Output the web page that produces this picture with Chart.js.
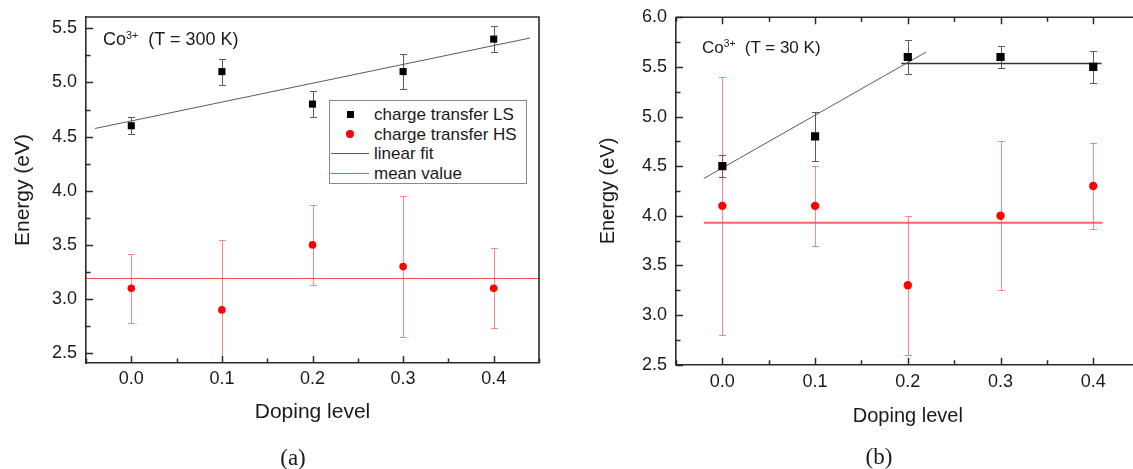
<!DOCTYPE html>
<html>
<head>
<meta charset="utf-8">
<script src="https://cdn.jsdelivr.net/npm/chart.js@4.4.1/dist/chart.umd.min.js"></script>
<style>
  html, body { margin: 0; padding: 0; background: #fff; overflow: hidden; width: 1133px; height: 469px; }
  body { position: relative; font-family: "Liberation Sans", Arial, sans-serif; color: #1a1a1a; }
  canvas { position: absolute; top: 0; }
  #chart300 { left: 0; }
  #chart30 { left: 580px; }
  .note { position: absolute; white-space: nowrap; line-height: 1; }
  .note sup { font-size: 0.6em; vertical-align: 0.55em; }
  .caption { position: absolute; font-family: "Liberation Serif", "DejaVu Serif", serif; font-size: 23px; line-height: 1; transform: translateX(-50%); }
  .legend { position: absolute; box-sizing: border-box; border: 1px solid #8a8a8a; background: #fff; padding-top: 4px; font-size: 17px; }
  .legend .row { height: 19.5px; line-height: 19.5px; display: flex; align-items: center; white-space: nowrap; }
  .legend .sample { width: 38px; margin-left: 1px; margin-right: 5px; display: flex; justify-content: center; align-items: center; }
  .legend .sq { width: 7px; height: 7px; }
  .legend .dot { width: 8px; height: 8px; border-radius: 50%; }
  .legend .ln { width: 38px; height: 0; }
</style>
</head>
<body>
<canvas id="chart300" width="560" height="469"></canvas>
<canvas id="chart30" width="580" height="469"></canvas>

<div class="note" style="left:103px; top:30px; font-size:18px;">Co<sup>3+</sup>&nbsp; (T = 300 K)</div>
<div class="note" style="left:702px; top:39px; font-size:17px;">Co<sup>3+</sup>&nbsp; (T = 30 K)</div>
<div id="legend300" class="legend" style="left:329px; top:100px; width:198px; height:84px;"></div>

<div class="caption" style="left:293px; top:446px;">(a)</div>
<div class="caption" style="left:879px; top:445px;">(b)</div>

<script>
// ---- data ----
const dopingLevels = [0.0, 0.1, 0.2, 0.3, 0.4];
const xTickValues = [0.0, 0.1, 0.2, 0.3, 0.4];

// (a) Co3+, T = 300 K
const lsEnergy300 = [4.6, 5.1, 4.8, 5.1, 5.4];
const lsError300  = [0.08, 0.12, 0.12, 0.16, 0.12];
const hsEnergy300 = [3.1, 2.9, 3.5, 3.3, 3.1];
const hsError300  = [0.32, 0.65, 0.37, 0.65, 0.37];
const fitX300 = [-0.04, 0.44];
const fitY300 = [4.575, 5.41];
const meanX300 = [-0.05, 0.45];
const meanHS300 = 3.19;
const yTicks300 = [2.5, 3.0, 3.5, 4.0, 4.5, 5.0, 5.5];

// (b) Co3+, T = 30 K
const lsEnergy30 = [4.5, 4.8, 5.6, 5.6, 5.5];
const lsError30  = [0.11, 0.245, 0.17, 0.11, 0.165];
const hsEnergy30 = [4.1, 4.1, 3.3, 4.0, 4.3];
const hsError30  = [1.3, 0.4, 0.7, 0.75, 0.43];
const fitX30 = [-0.02, 0.22];
const fitY30 = [4.376, 5.651];
const plateauX30 = [0.193, 0.409];
const plateauLS30 = 5.535;
const meanX30 = [-0.02, 0.41];
const meanHS30 = 3.93;
const yTicks30 = [2.5, 3.0, 3.5, 4.0, 4.5, 5.0, 5.5, 6.0];

const seriesLabels = ['charge transfer LS', 'charge transfer HS', 'linear fit', 'mean value'];

// ---- styling ----
const TEXT = '#1a1a1a';
const AXIS = '#2b2b2b';
const MAJOR_TICK = 7;
const MINOR_TICK = 4.5;

Chart.defaults.font.family = '"Liberation Sans", Arial, sans-serif';
Chart.defaults.color = TEXT;

const pts = (xs, ys) => xs.map((x, i) => ({ x, y: Array.isArray(ys) ? ys[i] : ys }));

// vertical error bars with caps, drawn under the markers
const errorBars = {
  id: 'errorBars',
  beforeDatasetsDraw(chart) {
    const { ctx, chartArea: a, scales: { x, y } } = chart;
    ctx.save();
    ctx.beginPath();
    ctx.rect(a.left, a.top, a.width, a.height);
    ctx.clip();
    chart.data.datasets.forEach(ds => {
      if (!ds.errors) return;
      ctx.strokeStyle = ds.errorColor;
      ctx.lineWidth = 1;
      const cap = ds.capHalf || 3.5;
      ds.data.forEach((p, j) => {
        const e = ds.errors[j];
        const px = Math.round(x.getPixelForValue(p.x)) + 0.5;
        const yt = Math.round(y.getPixelForValue(p.y + e)) + 0.5;
        const yb = Math.round(y.getPixelForValue(p.y - e)) + 0.5;
        ctx.beginPath();
        ctx.moveTo(px, yt); ctx.lineTo(px, yb);
        ctx.moveTo(px - cap, yt); ctx.lineTo(px + cap, yt);
        ctx.moveTo(px - cap, yb); ctx.lineTo(px + cap, yb);
        ctx.stroke();
      });
    });
    ctx.restore();
  }
};

// closing frame (top / right) plus inward major and minor tick marks
const frame = {
  id: 'frame',
  afterDraw(chart, args, opts) {
    const { ctx, chartArea: a, scales: { x, y } } = chart;
    ctx.save();
    ctx.strokeStyle = AXIS;
    ctx.lineWidth = 1.6;
    ctx.beginPath();
    ctx.moveTo(a.left, a.top);
    ctx.lineTo(a.right, a.top);
    ctx.lineTo(a.right, a.bottom);
    ctx.stroke();

    const majors = (scale) => scale.ticks.map(t => t.value);
    const minors = (scale) => {
      const vals = majors(scale);
      const step = vals[1] - vals[0];
      const out = [];
      for (let v = vals[0] - step / 2; v <= scale.max + 1e-9; v += step) {
        if (v >= scale.min - 1e-9) out.push(v);
      }
      return out;
    };
    const xMarks = majors(x).map(v => [v, MAJOR_TICK]).concat(minors(x).map(v => [v, MINOR_TICK]));
    const yMarks = majors(y).map(v => [v, MAJOR_TICK]).concat(minors(y).map(v => [v, MINOR_TICK]));

    ctx.lineWidth = 1.5;
    ctx.beginPath();
    xMarks.forEach(([v, len]) => {
      const px = Math.round(x.getPixelForValue(v)) + 0.5;
      ctx.moveTo(px, a.bottom); ctx.lineTo(px, a.bottom - len);
      if (opts.topTicks) { ctx.moveTo(px, a.top); ctx.lineTo(px, a.top + len); }
    });
    yMarks.forEach(([v, len]) => {
      const py = Math.round(y.getPixelForValue(v)) + 0.5;
      ctx.moveTo(a.left, py); ctx.lineTo(a.left + len, py);
    });
    ctx.stroke();
    ctx.restore();
  }
};

function makeScales(c) {
  return {
    x: {
      type: 'linear', position: 'bottom', min: c.xMin, max: c.xMax,
      afterBuildTicks: s => { s.ticks = xTickValues.map(v => ({ value: v })); },
      afterFit: s => { s.height = c.xHeight; s.paddingLeft = 0; s.paddingRight = 0; },
      ticks: { font: { size: 18 }, padding: c.xPad, color: TEXT, callback: v => Number(v).toFixed(1) },
      grid: { drawOnChartArea: false, drawTicks: false },
      border: { display: true, color: AXIS, width: 1.6 },
      title: { display: true, text: 'Doping level', color: TEXT, font: { size: c.titleSize }, padding: { top: 0, bottom: c.xTitlePad } }
    },
    y: {
      type: 'linear', position: 'left', min: c.yMin, max: c.yMax,
      afterBuildTicks: s => { s.ticks = c.yTicks.map(v => ({ value: v })); },
      afterFit: s => { s.width = c.yWidth; s.paddingTop = 0; s.paddingBottom = 0; },
      ticks: { font: { size: 18 }, padding: 9, color: TEXT, callback: v => Number(v).toFixed(1) },
      grid: { drawOnChartArea: false, drawTicks: false },
      border: { display: true, color: AXIS, width: 1.6 },
      title: { display: true, text: 'Energy (eV)', color: TEXT, font: { size: c.titleSize }, padding: { top: c.yTitlePad, bottom: 0 } }
    }
  };
}

const baseOptions = (c) => ({
  responsive: false,
  animation: false,
  events: [],
  layout: { padding: c.padding },
  plugins: { legend: { display: false }, tooltip: { enabled: false }, frame: { topTicks: c.topTicks } },
  scales: makeScales(c)
});

// (a) 300 K
const chart300 = new Chart(document.getElementById('chart300'), {
  type: 'scatter',
  data: {
    datasets: [
      { label: seriesLabels[0], data: pts(dopingLevels, lsEnergy300), errors: lsError300, errorColor: '#5a5a5a',
        pointStyle: 'rect', pointRadius: 5, backgroundColor: '#000', borderWidth: 0, showLine: false },
      { label: seriesLabels[1], data: pts(dopingLevels, hsEnergy300), errors: hsError300, errorColor: 'rgba(255,40,40,0.55)',
        pointStyle: 'circle', pointRadius: 3.8, backgroundColor: '#ff0000', borderWidth: 0, showLine: false },
      { label: seriesLabels[2], data: pts(fitX300, fitY300), showLine: true, borderColor: '#5a5a5a', borderWidth: 1,
        pointRadius: 0, backgroundColor: '#5a5a5a' },
      { label: seriesLabels[3], data: pts(meanX300, meanHS300), showLine: true, borderColor: 'rgba(255,40,40,0.85)', borderWidth: 1.2,
        pointRadius: 0, backgroundColor: 'rgba(255,40,40,0.85)' }
    ]
  },
  options: baseOptions({
    padding: { left: 0, top: 17, right: 21, bottom: 0 },
    xMin: -0.05, xMax: 0.45, yMin: 2.41, yMax: 5.604, yTicks: yTicks300,
    xHeight: 106, yWidth: 86, xPad: 5.5, titleSize: 21, xTitlePad: 44, yTitlePad: 11, topTicks: false
  }),
  plugins: [errorBars, frame]
});

// (b) 30 K
const chart30 = new Chart(document.getElementById('chart30'), {
  type: 'scatter',
  data: {
    datasets: [
      { label: seriesLabels[0], data: pts(dopingLevels, lsEnergy30), errors: lsError30, errorColor: '#5a5a5a',
        pointStyle: 'rect', pointRadius: 5.8, backgroundColor: '#000', borderWidth: 0, showLine: false },
      { label: seriesLabels[1], data: pts(dopingLevels, hsEnergy30), errors: hsError30, errorColor: 'rgba(255,40,40,0.55)',
        pointStyle: 'circle', pointRadius: 4.2, backgroundColor: '#ff0000', borderWidth: 0, showLine: false },
      { label: seriesLabels[2], data: pts(fitX30, fitY30), showLine: true, borderColor: '#5a5a5a', borderWidth: 1,
        pointRadius: 0 },
      { label: seriesLabels[2], data: pts(plateauX30, plateauLS30), showLine: true, borderColor: '#333', borderWidth: 1.6,
        pointRadius: 0 },
      { label: seriesLabels[3], data: pts(meanX30, meanHS30), showLine: true, borderColor: 'rgba(255,60,60,0.8)', borderWidth: 1.8,
        pointRadius: 0 }
    ]
  },
  options: baseOptions({
    padding: { left: 0, top: 17.3, right: 20.4, bottom: 0 },
    xMin: -0.05, xMax: 0.45, yMin: 2.5, yMax: 6.0, yTicks: yTicks30,
    xHeight: 104.3, yWidth: 96, xPad: 7, titleSize: 20, xTitlePad: 41, yTitlePad: 16, topTicks: true
  }),
  plugins: [errorBars, frame]
});

// legend for panel (a), built from the chart's datasets
(function buildLegend(chart, el) {
  chart.data.datasets.forEach(ds => {
    const row = document.createElement('div');
    row.className = 'row';
    const sample = document.createElement('span');
    sample.className = 'sample';
    const mark = document.createElement('span');
    if (ds.showLine) {
      mark.className = 'ln';
      mark.style.borderTop = ds.borderWidth + 'px solid ' + ds.borderColor;
    } else {
      mark.className = ds.pointStyle === 'rect' ? 'sq' : 'dot';
      mark.style.background = ds.backgroundColor;
    }
    sample.appendChild(mark);
    const text = document.createElement('span');
    text.textContent = ds.label;
    row.appendChild(sample);
    row.appendChild(text);
    el.appendChild(row);
  });
})(chart300, document.getElementById('legend300'));
</script>
</body>
</html>
